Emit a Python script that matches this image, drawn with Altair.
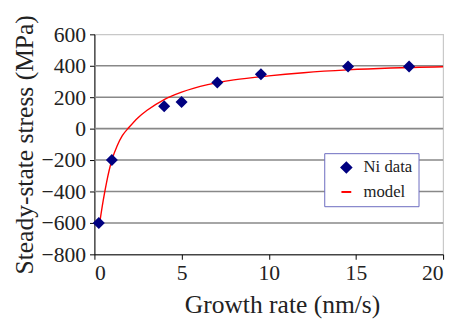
import altair as alt
import pandas as pd

# Measured data (Ni)
rate_data = [0.25, 1.0, 4.0, 5.0, 7.05, 9.55, 14.55, 18.05]
stress_data = [-600, -200, 142, 170, 293, 346, 396, 396]

# Model curve
rate_model = [0.3, 0.5, 0.7, 1.0, 1.3, 1.6, 2.0, 2.5, 3.0, 4.0, 5.0, 6.5, 8.0, 10.0, 12.0, 14.5, 17.0, 20.0]
stress_model = [-600, -460, -340, -200, -110, -45, 10, 70, 115, 185, 232, 280, 310, 336, 356, 374, 386, 394]

# Axis ticks / gridlines
x_ticks = [0, 5, 10, 15, 20]
y_ticks = [-800, -600, -400, -200, 0, 200, 400, 600]
y_grid = [-600, -400, -200, 0, 200, 400]

series = ["Ni data", "model"]
colors = ["#000080", "#ff0000"]
shapes = ["diamond", "stroke"]

df_data = pd.DataFrame({"rate": rate_data, "stress": stress_data, "series": series[0]})
df_model = pd.DataFrame({"rate": rate_model, "stress": stress_model, "series": series[1]})
df_grid = pd.DataFrame({"stress": y_grid})

FONT = "'Liberation Serif', 'Times New Roman', serif"

xscale = alt.Scale(domain=[0, 20], nice=False, zero=False)
yscale = alt.Scale(domain=[-800, 600], nice=False)

xenc = alt.X("rate:Q", scale=xscale,
             axis=alt.Axis(values=x_ticks, title="Growth rate (nm/s)", grid=False,
                           titleX=191, titlePadding=8))
yenc = alt.Y("stress:Q", scale=yscale,
             axis=alt.Axis(values=y_ticks, title="Steady-state stress (MPa)",
                           grid=False, titlePadding=4))

legend = alt.Legend(title=None, orient="none", legendX=234, legendY=121)
cscale = alt.Scale(domain=series, range=colors)
sscale = alt.Scale(domain=series, range=shapes)

grid = alt.Chart(df_grid).mark_rule(color="#888888", strokeWidth=1.6).encode(y=yenc)

line = alt.Chart(df_model).mark_line(strokeWidth=1.4, interpolate="monotone").encode(
    x=xenc, y=yenc, color=alt.Color("series:N", scale=cscale, legend=legend))

pts = alt.Chart(df_data).mark_point(filled=True, size=150, opacity=1).encode(
    x=xenc, y=yenc,
    color=alt.Color("series:N", scale=cscale, legend=legend),
    shape=alt.Shape("series:N", scale=sscale, legend=legend))

chart = alt.layer(grid, line, pts).properties(
    width=355, height=224,
    autosize=alt.AutoSizeParams(type="none"),
    padding={"left": 88, "top": 24, "right": 5, "bottom": 63},
).configure_view(stroke="#c8c8c8", strokeWidth=1.2, fill="white").configure_axis(
    labelFont=FONT, titleFont=FONT, labelFontSize=22, titleFontSize=26,
    titleFontWeight="normal", labelColor="#222", titleColor="#222",
    domainColor="#000", tickColor="#000", tickSize=5, labelPadding=4,
).configure_legend(
    labelFont=FONT, labelFontSize=17, labelColor="#222",
    strokeColor="#6a6ac0", fillColor="white", padding=6, rowPadding=6,
    symbolSize=100, symbolStrokeWidth=2, cornerRadius=0,
    symbolOffset=8, labelOffset=9,
)

chart.save("out.html", embed_options={"renderer": "svg", "actions": False})
